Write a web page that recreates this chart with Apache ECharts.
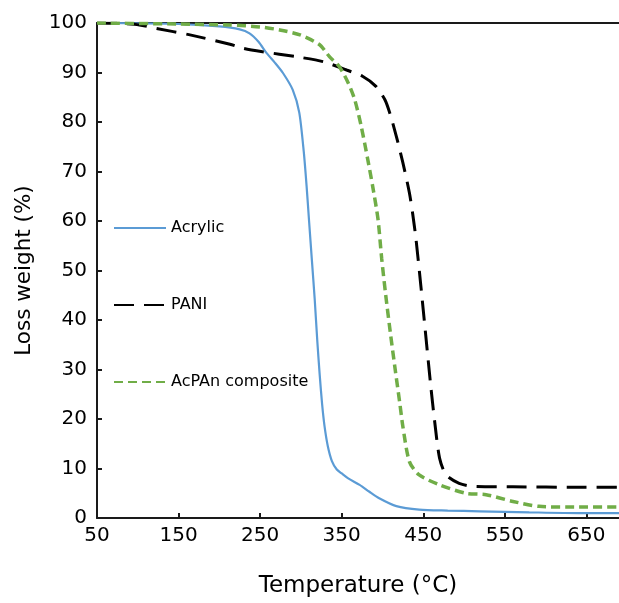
<!DOCTYPE html>
<html>
<head>
<meta charset="utf-8">
<script src="https://cdn.jsdelivr.net/npm/echarts@6/dist/echarts.min.js"></script>
<style>html,body{margin:0;padding:0;background:#fff}#c{width:619px;height:603px}</style>
</head>
<body>
<div id="c"></div>
<script>
const xTicks = [50, 150, 250, 350, 450, 550, 650];
const seriesNames = ['Acrylic', 'PANI', 'AcPAn composite'];

const acrylicT = [50, 150, 200, 225, 237, 248, 258, 268, 278, 290, 298, 303.5, 307, 310, 313.5, 317, 320, 323, 326, 329, 333, 338, 344, 350, 358, 372, 384, 396, 417, 445, 480, 519, 580, 641, 690];
const acrylicW = [100, 99.8, 99.3, 98.7, 97.9, 96.2, 93.9, 92.0, 89.9, 86.5, 81.9, 74, 67, 60, 52, 44, 36, 29, 23, 18.5, 14.5, 11.5, 9.8, 9.0, 8.0, 6.7, 5.3, 4.0, 2.4, 1.7, 1.5, 1.35, 1.15, 1.0, 1.0];

const paniT = [50, 80, 102, 123, 164, 213, 229, 253, 294, 327, 356, 376, 392, 403, 409, 417, 425, 433, 437, 441, 447, 453, 459, 464, 470, 478, 494, 511, 560, 641, 690];
const paniW = [100, 99.9, 99.6, 98.9, 97.6, 95.7, 94.9, 94.2, 93.2, 92.2, 90.5, 89.2, 87.2, 84.5, 81.8, 77.1, 71.8, 65.7, 61.5, 56.5, 47, 37, 27, 19.5, 12.1, 8.7, 7.0, 6.4, 6.3, 6.2, 6.2];

const compT = [50, 150, 213, 250, 274, 299, 323, 335, 347, 358, 366, 374, 382, 388, 394.5, 399, 404, 410, 416, 421, 425, 433, 445, 470, 502, 527, 560, 592, 641, 690];
const compW = [100, 99.8, 99.6, 99.2, 98.6, 97.6, 95.6, 93.2, 91.2, 87.9, 84.5, 79.1, 72.4, 67.0, 60.4, 52.5, 45, 37, 29.5, 23.5, 18.5, 11.4, 8.7, 6.7, 5.0, 4.7, 3.35, 2.35, 2.2, 2.2];

const zip = (a, b) => a.map((t, i) => [t, b[i]]);
const font = '"DejaVu Sans", sans-serif';
const chart = echarts.init(document.getElementById('c'), null, {renderer: 'canvas'});
const axisLine = {show: true, lineStyle: {color: '#1a1a1a', width: 2}};

chart.setOption({
  animation: false,
  textStyle: {fontFamily: font, color: '#000'},
  grid: {left: 97, right: 0, top: 23, bottom: 83, containLabel: false},
  legend: {
    orient: 'vertical', left: 113, top: 218, padding: 0,
    itemWidth: 52, itemHeight: 20, itemGap: 57,
    data: seriesNames,
    itemStyle: {opacity: 0},
    textStyle: {fontFamily: font, fontSize: 16, color: '#000', lineHeight: 20}
  },
  xAxis: [{
    type: 'value', min: 50, max: 690, interval: 100,
    name: 'Temperature (°C)', nameLocation: 'middle', nameGap: 57,
    nameTextStyle: {fontFamily: font, fontSize: 23, color: '#000'},
    axisLine: axisLine,
    axisTick: {show: true, inside: true, length: 5, customValues: xTicks, lineStyle: {color: '#1a1a1a', width: 2}},
    axisLabel: {customValues: xTicks, fontFamily: font, fontSize: 20, color: '#000', margin: 8},
    splitLine: {show: false}
  }, {
    type: 'value', position: 'top', min: 50, max: 690,
    axisLine: axisLine, axisTick: {show: false}, axisLabel: {show: false}, splitLine: {show: false}
  }],
  yAxis: {
    type: 'value', min: 0, max: 100, interval: 10,
    name: 'Loss weight (%)', nameLocation: 'middle', nameGap: 62,
    nameTextStyle: {fontFamily: font, fontSize: 21.5, color: '#000'},
    axisLine: axisLine,
    axisTick: {show: true, inside: true, length: 5, lineStyle: {color: '#1a1a1a', width: 2}},
    axisLabel: {fontFamily: font, fontSize: 20, color: '#000', margin: 10},
    splitLine: {show: false}
  },
  series: [{
    name: seriesNames[0], type: 'line', data: zip(acrylicT, acrylicW), symbol: 'none',
    smooth: 0.25,
    lineStyle: {color: '#5B9BD5', width: 2.2, type: 'solid'}, itemStyle: {color: '#5B9BD5'}
  }, {
    name: seriesNames[1], type: 'line', data: zip(paniT, paniW), symbol: 'none',
    smooth: 0.25,
    lineStyle: {color: '#000', width: 3, type: [20, 10]}, itemStyle: {color: '#000'}
  }, {
    name: seriesNames[2], type: 'line', data: zip(compT, compW), symbol: 'none',
    smooth: 0.25,
    lineStyle: {color: '#70AD47', width: 3.5, type: [9, 5]}, itemStyle: {color: '#70AD47'}
  }]
});
</script>
</body>
</html>
